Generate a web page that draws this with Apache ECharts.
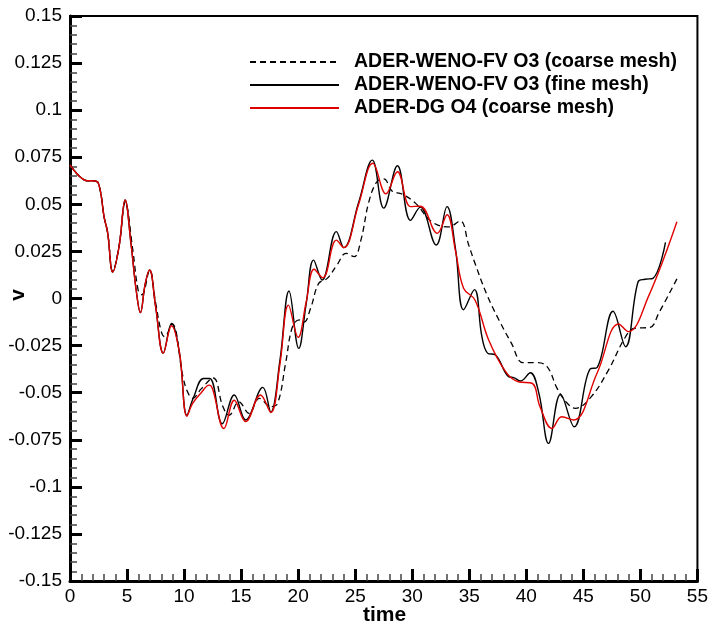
<!DOCTYPE html>
<html>
<head>
<meta charset="utf-8">
<script src="https://cdn.jsdelivr.net/npm/echarts@6/dist/echarts.min.js"></script>
<style>
  html, body { margin: 0; padding: 0; background: #fff; }
  #chart { width: 711px; height: 625px; }
</style>
</head>
<body>
<div id="chart"></div>
<script>
// ADER-WENO-FV O3, coarse mesh (dashed)
const tCoarse = [0, 0.5, 1, 1.5, 2, 2.5, 3, 3.3, 3.75, 4.3, 4.85, 5.5, 6.0, 6.3, 6.98, 7.5, 8.0, 8.3, 8.95, 9.9, 10.3, 10.75, 11.5, 12.55, 13.4, 13.95, 14.8, 15.7, 16.6, 17.6, 18.2, 18.9, 19.5, 20.1, 20.5, 21.1, 21.8, 22.55, 23.4, 24.2, 24.9, 25.5, 26.2, 26.9, 27.5, 28.25, 29.1, 30.3, 31.7, 33.2, 34.2, 34.95, 35.5, 36.55, 37.6, 38.7, 39.7, 40.8, 41.8, 42.7, 43.5, 44.3, 45.7, 47.2, 48.7, 49.5, 50.85, 51.6, 53.2];
const vCoarse = [0.071, 0.067, 0.064, 0.0625, 0.0625, 0.061, 0.043, 0.035, 0.0145, 0.028, 0.051, 0.026, 0.0036, 0.002, 0.015, -0.002, -0.0176, -0.0203, -0.0135, -0.0415, -0.0495, -0.053, -0.048, -0.0422, -0.0574, -0.062, -0.0548, -0.061, -0.053, -0.0574, -0.0557, -0.0344, -0.015, -0.0114, -0.0125, -0.005, 0.008, 0.0107, 0.0178, 0.024, 0.0222, 0.031, 0.0514, 0.062, 0.0635, 0.057, 0.0555, 0.0505, 0.0408, 0.038, 0.0412, 0.0284, 0.0187, 0.0019, -0.0114, -0.0238, -0.034, -0.034, -0.036, -0.0477, -0.055, -0.0583, -0.0521, -0.038, -0.0203, -0.0158, -0.0153, -0.0079, 0.0104];

// ADER-WENO-FV O3, fine mesh (black solid)
const tFine = [0, 0.5, 1, 1.5, 2, 2.5, 3, 3.3, 3.75, 4.3, 4.83, 5.35, 5.8, 6.17, 6.6, 6.98, 7.5, 8.18, 8.9, 9.6, 10.25, 10.8, 11.7, 12.25, 13.35, 14.4, 15.4, 16.9, 17.6, 18.4, 19.2, 20.05, 20.7, 21.35, 22.1, 23.35, 24.0, 25.3, 26.5, 27.5, 28.7, 29.85, 30.7, 32.1, 33.05, 33.8, 34.5, 35.45, 36.1, 36.6, 37.3, 38.45, 38.9, 39.5, 40.35, 41.1, 41.95, 43.0, 44.2, 45.6, 46.2, 47.6, 48.7, 49.8, 50.4, 51.1, 52.2];
const vFine = [0.071, 0.067, 0.064, 0.0625, 0.0625, 0.061, 0.043, 0.035, 0.014, 0.0275, 0.0523, 0.029, 0.0045, -0.0075, 0.008, 0.0151, -0.004, -0.029, -0.0132, -0.029, -0.062, -0.053, -0.0425, -0.0425, -0.0665, -0.0512, -0.0645, -0.0472, -0.0603, -0.033, 0.004, -0.0265, -0.003, 0.0204, 0.0098, 0.0355, 0.027, 0.051, 0.0735, 0.048, 0.0705, 0.0415, 0.0485, 0.0284, 0.0488, 0.026, -0.006, 0.0047, -0.02, -0.029, -0.030, -0.0415, -0.042, -0.0438, -0.0394, -0.0503, -0.0769, -0.0509, -0.0681, -0.0374, -0.0367, -0.0068, -0.0256, 0.0089, 0.0102, 0.0107, 0.0298];

// ADER-DG O4, coarse mesh (red)
const tDG = [0, 0.5, 1, 1.5, 2, 2.5, 3, 3.3, 3.75, 4.3, 4.83, 5.35, 5.8, 6.17, 6.6, 6.98, 7.5, 8.18, 8.9, 9.6, 10.25, 10.75, 11.5, 12.2, 12.5, 13.5, 14.4, 15.4, 16.7, 17.6, 18.4, 19.15, 20.0, 20.7, 21.4, 22.15, 23.35, 24.0, 25.3, 26.55, 27.7, 28.7, 29.85, 30.7, 32.2, 33.05, 33.8, 34.5, 35.5, 36.7, 38.2, 39.3, 40.5, 41.2, 42.25, 43.1, 44.15, 46.2, 48.1, 48.95, 50.7, 53.2];
const vDG = [0.071, 0.067, 0.064, 0.0625, 0.0625, 0.061, 0.043, 0.035, 0.014, 0.0275, 0.0523, 0.029, 0.0045, -0.0075, 0.008, 0.0151, -0.004, -0.029, -0.0145, -0.029, -0.0625, -0.0557, -0.05, -0.046, -0.048, -0.069, -0.054, -0.0654, -0.0512, -0.0605, -0.035, -0.0035, -0.0206, -0.002, 0.0155, 0.011, 0.031, 0.027, 0.05, 0.0718, 0.0556, 0.0673, 0.0488, 0.049, 0.0346, 0.0445, 0.025, 0.0055, -0.0008, -0.022, -0.039, -0.0442, -0.045, -0.0574, -0.069, -0.0628, -0.0645, -0.0397, -0.0135, -0.0176, 0.001, 0.0408];

const seriesNames = ['ADER-WENO-FV O3 (coarse mesh)', 'ADER-WENO-FV O3 (fine mesh)', 'ADER-DG O4 (coarse mesh)'];
const xName = 'time';
const yName = 'v';

const pairs = (ts, vs) => ts.map((t, i) => [t, vs[i]]);

const chart = echarts.init(document.getElementById('chart'));
const fontFamily = 'Liberation Sans, Arial, sans-serif';
const axisFont = { fontFamily, fontSize: 19, color: '#000' };

function axisParts() {
   return {
      axisLine: { show: true, onZero: false, lineStyle: { color: '#000', width: 3 } },
      axisTick: { show: true, inside: true, length: 12, lineStyle: { color: '#000', width: 3 } },
      minorTick: { show: true, splitNumber: 5, length: 7, lineStyle: { color: '#444', width: 1.5 } },
      splitLine: { show: false }
   };
}

chart.setOption({
   animation: false,
   backgroundColor: '#fff',
   grid: {
      left: 70, right: 12, top: 16, bottom: 44,
      show: true, borderColor: '#000', borderWidth: 2
   },
   // axis titles drawn as text so the grid keeps its place
   graphic: [
      {
         type: 'text', left: 8, top: 289, rotation: Math.PI / 2,
         style: { text: yName, font: 'bold 21px ' + fontFamily, fill: '#000' }
      },
      {
         type: 'text', left: 363, top: 605,
         style: { text: xName, font: 'bold 21px ' + fontFamily, fill: '#000' }
      }
   ],
   legend: {
      orient: 'vertical',
      left: 244, top: 47,
      itemWidth: 89, itemHeight: 14, itemGap: 3,
      itemStyle: { opacity: 0 },
      textStyle: {
         fontFamily, fontSize: 19.5, fontWeight: 'bold', color: '#000',
         padding: [0, 0, 0, 10]
      },
      data: seriesNames
   },
   xAxis: Object.assign({
      type: 'value', min: 0, max: 55, interval: 5,
      axisLabel: Object.assign({ margin: 6 }, axisFont)
   }, axisParts()),
   yAxis: Object.assign({
      type: 'value', min: -0.15, max: 0.15, interval: 0.025,
      axisLabel: Object.assign({
         margin: 8,
         formatter: (val) => String(parseFloat(val.toFixed(3)))
      }, axisFont)
   }, axisParts()),
   series: [
      {
         name: seriesNames[0], type: 'line', smooth: 0.4, symbol: 'none',
         lineStyle: { color: '#000', width: 1.3, type: [6, 4] },
         itemStyle: { color: '#000' },
         data: pairs(tCoarse, vCoarse)
      },
      {
         name: seriesNames[1], type: 'line', smooth: 0.4, symbol: 'none',
         lineStyle: { color: '#000', width: 1.4 },
         itemStyle: { color: '#000' },
         data: pairs(tFine, vFine)
      },
      {
         name: seriesNames[2], type: 'line', smooth: 0.4, symbol: 'none',
         lineStyle: { color: '#e00000', width: 1.4 },
         itemStyle: { color: '#e00000' },
         data: pairs(tDG, vDG)
      }
   ]
});
</script>
</body>
</html>
